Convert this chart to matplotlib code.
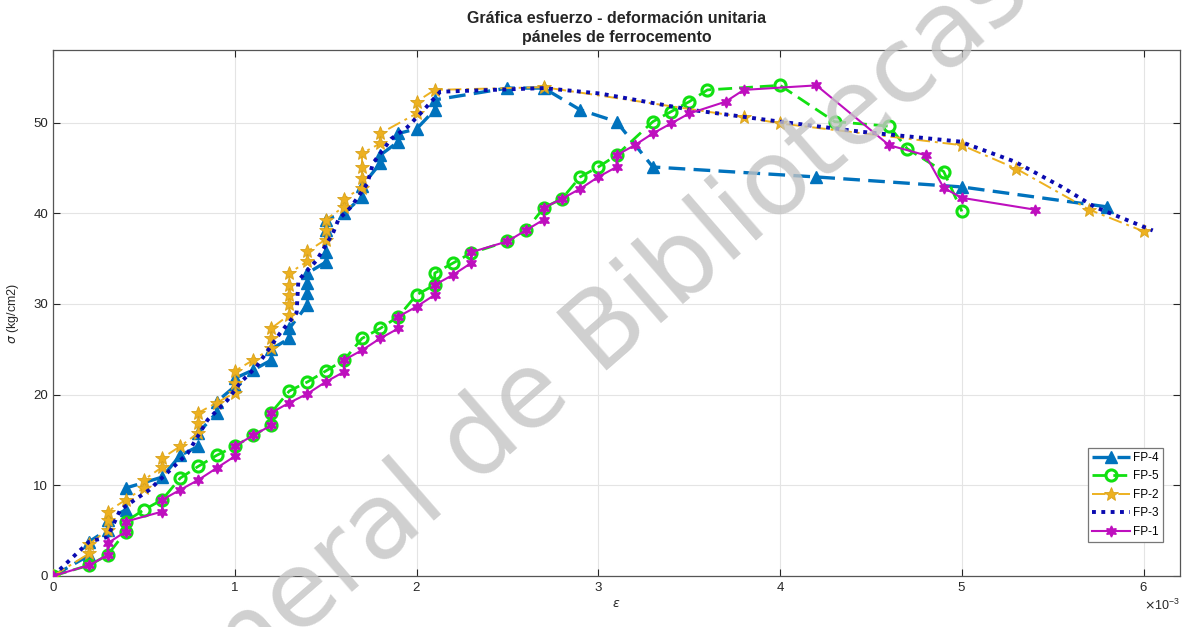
import numpy as np
import matplotlib
matplotlib.use("Agg")
import matplotlib.pyplot as plt
from matplotlib.ticker import ScalarFormatter

plt.rcParams['font.family'] = ['Liberation Sans', 'DejaVu Sans']
plt.rcParams['mathtext.fontset'] = 'dejavusans'

# strain values in units of 1e-3, stress in kg/cm2
fp4_strain = [0, 0.2, 0.2, 0.3, 0.3, 0.4, 0.4, 0.6, 0.7, 0.8, 0.8, 0.9, 0.9, 1.0, 1.0,
              1.1, 1.2, 1.2, 1.3, 1.3, 1.4, 1.4, 1.4, 1.4, 1.5, 1.5, 1.5, 1.5, 1.6, 1.7,
              1.7, 1.8, 1.8, 1.9, 1.9, 2.0, 2.1, 2.1, 2.5, 2.7, 2.9, 3.1, 3.3, 4.2, 5.0, 5.8]
fp4_stress = [0, 2.3, 3.8, 5.1, 6.2, 7.3, 9.7, 10.9, 13.3, 14.3, 15.8, 18.0, 19.2, 20.9, 21.8,
              22.7, 23.8, 25.0, 26.2, 27.3, 29.9, 31.2, 32.3, 33.4, 34.6, 35.7, 38.2, 39.3, 40.0, 41.8,
              43.0, 45.5, 46.4, 47.9, 48.8, 49.3, 51.4, 52.5, 53.8, 53.8, 51.4, 50.1, 45.1, 44.0, 42.9, 40.7]

fp5_strain = [0, 0.2, 0.3, 0.4, 0.4, 0.5, 0.6, 0.7, 0.8, 0.9, 1.0, 1.1, 1.2, 1.2, 1.3,
              1.4, 1.5, 1.6, 1.7, 1.8, 1.9, 2.0, 2.1, 2.1, 2.2, 2.3, 2.5, 2.6, 2.7, 2.8,
              2.9, 3.0, 3.1, 3.3, 3.4, 3.5, 3.6, 4.0, 4.3, 4.6, 4.7, 4.9, 5.0]
fp5_stress = [0, 1.2, 2.3, 4.9, 6.0, 7.3, 8.4, 10.8, 12.1, 13.3, 14.3, 15.5, 16.6, 18.0, 20.4,
              21.4, 22.6, 23.8, 26.2, 27.3, 28.6, 31.0, 32.1, 33.4, 34.5, 35.6, 36.9, 38.1, 40.6, 41.6,
              44.0, 45.1, 46.4, 50.1, 51.2, 52.3, 53.6, 54.1, 50.1, 49.6, 47.1, 44.6, 40.2]

fp2_strain = [0, 0.2, 0.2, 0.3, 0.3, 0.3, 0.4, 0.5, 0.5, 0.6, 0.6, 0.7, 0.8, 0.8, 0.8,
              0.9, 1.0, 1.0, 1.0, 1.1, 1.2, 1.2, 1.2, 1.3, 1.3, 1.3, 1.3, 1.3, 1.4, 1.4,
              1.5, 1.5, 1.5, 1.6, 1.6, 1.7, 1.7, 1.7, 1.7, 1.8, 1.8, 2.0, 2.0, 2.1, 2.7,
              3.8, 4.0, 5.0, 5.3, 5.7, 6.0]
fp2_stress = [0, 2.5, 3.5, 5.1, 6.2, 7.1, 8.4, 9.7, 10.6, 12.0, 13.0, 14.3, 15.8, 16.9, 18.0,
              19.1, 20.2, 21.3, 22.6, 23.8, 25.1, 26.2, 27.3, 28.8, 30.0, 31.0, 32.1, 33.4, 34.7, 35.8,
              37.1, 38.2, 39.3, 40.7, 41.6, 42.8, 43.9, 45.1, 46.6, 47.7, 48.8, 51.0, 52.3, 53.6, 53.9,
              50.6, 49.9, 47.5, 44.9, 40.4, 38.0]

fp3_strain = [0, 0.2, 0.3, 0.37, 0.53, 0.74, 0.85, 0.96, 1.03, 1.12, 1.25, 1.34, 1.35, 1.45,
              1.54, 1.57, 1.64, 1.73, 1.76, 1.86, 1.95, 2.04, 2.13, 2.70, 3.01, 3.51, 4.0,
              4.44, 4.99, 5.29, 5.55, 5.73, 6.05]
fp3_stress = [0, 3.8, 4.3, 7.3, 9.5, 13.5, 17.2, 19.4, 21.3, 23.1, 26.8, 29.0, 32.6, 34.8,
              37.8, 39.3, 40.7, 43.3, 45.5, 48.2, 49.5, 51.4, 53.4, 53.8, 53.2, 51.4, 50.1,
              49.0, 47.9, 45.7, 42.9, 40.7, 38.1]

fp1_strain = [0, 0.2, 0.3, 0.3, 0.4, 0.4, 0.6, 0.6, 0.7, 0.8, 0.9, 1.0, 1.0, 1.1, 1.2,
              1.2, 1.3, 1.4, 1.5, 1.6, 1.6, 1.7, 1.8, 1.9, 1.9, 2.0, 2.1, 2.1, 2.2, 2.3,
              2.3, 2.5, 2.6, 2.7, 2.7, 2.8, 2.9, 3.0, 3.1, 3.1, 3.2, 3.3, 3.4, 3.5, 3.7,
              3.8, 4.2, 4.6, 4.8, 4.9, 5.0, 5.4]
fp1_stress = [0, 1.2, 2.3, 3.6, 4.9, 6.0, 7.1, 8.4, 9.5, 10.6, 11.9, 13.2, 14.3, 15.5, 16.6,
              18.0, 19.1, 20.1, 21.4, 22.5, 23.8, 24.9, 26.2, 27.3, 28.6, 29.7, 31.0, 32.1, 33.2, 34.5,
              35.7, 36.9, 38.1, 39.3, 40.6, 41.6, 42.7, 44.0, 45.1, 46.4, 47.5, 48.8, 49.9, 51.0, 52.3,
              53.6, 54.1, 47.5, 46.4, 42.8, 41.7, 40.4]

x_ticks = [0, 1, 2, 3, 4, 5, 6]
y_ticks = [0, 10, 20, 30, 40, 50]

SCALE = 1e-3
W, H = 1190, 627
fig = plt.figure(figsize=(W / 100, H / 100), dpi=100)
ax = fig.add_axes([53 / W, 1 - 576 / H, (1180 - 53) / W, (576 - 50) / H])

hexagram = (6, 1, 0)

ax.plot(np.array(fp4_strain) * SCALE, fp4_stress, linestyle=(0, (5, 2.5)), color='#0072BD',
        lw=2.4, marker='^', ms=8, mfc='#0072BD', mec='#0072BD', label='FP-4', zorder=2)
ax.plot(np.array(fp5_strain) * SCALE, fp5_stress, linestyle=(0, (5, 2.5)), color='#11E011',
        lw=2.0, marker='o', ms=8, mfc='none', mec='#11E011', mew=2.2, label='FP-5', zorder=3)
ax.plot(np.array(fp2_strain) * SCALE, fp2_stress, linestyle=(0, (7, 2.5, 1.5, 2.5)), color='#EDB120',
        lw=1.4, marker='*', ms=10, mfc='#EDB120', mec='#D9A21A', mew=0.6, label='FP-2', zorder=4)
ax.plot(np.array(fp3_strain) * SCALE, fp3_stress, linestyle=(0, (1, 1.4)), color='#0A0AB0',
        lw=2.8, label='FP-3', zorder=5)
ax.plot(np.array(fp1_strain) * SCALE, fp1_stress, linestyle='-', color='#BE0FBE',
        lw=1.5, marker=hexagram, ms=8, mfc='#BE0FBE', mec='#BE0FBE', label='FP-1', zorder=6)

ax.set_xlim(0, 6.2e-3)
ax.set_ylim(0, 58)
ax.set_xticks(np.array(x_ticks) * SCALE)
ax.set_yticks(y_ticks)

fmt = ScalarFormatter(useMathText=True)
fmt.set_powerlimits((0, 0))
ax.xaxis.set_major_formatter(fmt)
ax.xaxis.get_offset_text().set_fontsize(9)
ax.xaxis.get_offset_text().set_color('#333333')

ax.grid(True, color='#E4E4E4', lw=0.8)
ax.set_axisbelow(True)
ax.tick_params(direction='in', length=5, width=0.8, top=True, right=True,
               labelsize=9.5, colors='#262626', labelcolor='#262626')
for s in ax.spines.values():
    s.set_color('#555555')
    s.set_linewidth(0.9)

ax.set_xlabel(r'$\epsilon$', fontsize=9, color='#262626', labelpad=3)
ax.set_ylabel(r'$\sigma$ (kg/cm2)', fontsize=9, color='#262626', labelpad=9)
ax.set_title('Gráfica esfuerzo - deformación unitaria\npáneles de ferrocemento',
             fontsize=11.5, fontweight='bold', color='#262626', linespacing=1.3, pad=6)

leg = ax.legend(loc='lower right', bbox_to_anchor=(0.985, 0.065), fontsize=8.5,
                frameon=True, fancybox=False, edgecolor='#777777', framealpha=1,
                borderaxespad=0, handlelength=3.2, handletextpad=0.3,
                labelspacing=0.55, borderpad=0.35)
leg.get_frame().set_linewidth(0.9)

# library watermark overlaid on the plot
fig.text(0.522, 0.49, 'neral de Bibliotecas', fontsize=76, color='#C4C4C4',
         alpha=0.8, rotation=41, rotation_mode='anchor', ha='center', va='center',
         zorder=20, family='DejaVu Sans')

fig.savefig('out.png', dpi=100)
